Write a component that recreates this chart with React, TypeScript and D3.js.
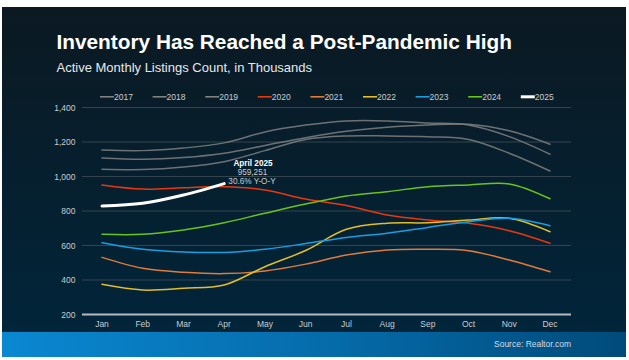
import React from 'react';
import * as d3 from 'd3';

const months = ['Jan', 'Feb', 'Mar', 'Apr', 'May', 'Jun', 'Jul', 'Aug', 'Sep', 'Oct', 'Nov', 'Dec'];
const yTicks = [200, 400, 600, 800, 1000, 1200, 1400];

const years = ['2017', '2018', '2019', '2020', '2021', '2022', '2023', '2024', '2025'];
const colors = ['#808080', '#808080', '#808080', '#e8380d', '#e07b39', '#e3bd2a', '#1a9ee0', '#6cc21c', '#ffffff'];

// values in thousands
const v2017 = [1153, 1150, 1165, 1195, 1258, 1298, 1322, 1322, 1310, 1298, 1231, 1129];
const v2018 = [1107, 1100, 1110, 1135, 1180, 1225, 1262, 1285, 1298, 1303, 1265, 1187];
const v2019 = [1042, 1040, 1055, 1086, 1150, 1215, 1235, 1235, 1230, 1215, 1135, 1032];
const v2020 = [951, 927, 935, 941, 922, 869, 832, 777, 748, 729, 686, 613];
const v2021 = [531, 468, 445, 437, 452, 492, 545, 574, 578, 570, 516, 448];
const v2022 = [375, 342, 352, 371, 477, 571, 694, 729, 732, 748, 758, 680];
const v2023 = [616, 578, 562, 560, 578, 611, 647, 671, 705, 738, 758, 715];
const v2024 = [665, 665, 690, 732, 787, 840, 887, 912, 941, 951, 957, 871];
const v2025 = [829, 845, 893, 959];

const series = [v2017, v2018, v2019, v2020, v2021, v2022, v2023, v2024, v2025];

const W = 629;
const H = 360;
const font = '"Liberation Sans", Arial, sans-serif';

const App: React.FC = () => {
  const x = d3.scalePoint<string>().domain(months).range([102, 550]);
  const y = d3.scaleLinear().domain([200, 1400]).range([314.5, 107.5]);

  const line = d3
    .line<number>()
    .x((_, i) => x(months[i]) as number)
    .y((d) => y(d))
    .curve(d3.curveCatmullRom.alpha(0.5));

  const gridX0 = 82;
  const gridX1 = 571;

  return (
    <div style={{ position: 'absolute', left: 0, top: 0 }}>
      <svg width={W} height={H} style={{ display: 'block' }}>
        <defs>
          <linearGradient id="bg" x1="0" y1="0" x2="0" y2="1">
            <stop offset="0%" stopColor="#0b1922" />
            <stop offset="100%" stopColor="#01253a" />
          </linearGradient>
          <linearGradient id="band" x1="0" y1="0" x2="1" y2="0">
            <stop offset="0%" stopColor="#0a88d2" />
            <stop offset="55%" stopColor="#056aa8" />
            <stop offset="100%" stopColor="#004a7a" />
          </linearGradient>
        </defs>
        <rect width={W} height={H} fill="#ffffff" />
        <rect x={2} y={7} width={624} height={325} fill="url(#bg)" />
        <rect x={2} y={332} width={624} height={25} fill="url(#band)" />

        <text x={56.5} y={48.5} fill="#ffffff" fontFamily={font} fontWeight="bold" fontSize={20.8}>
          Inventory Has Reached a Post-Pandemic High
        </text>
        <text x={56.5} y={71.5} fill="#e6e9ec" fontFamily={font} fontSize={13}>
          Active Monthly Listings Count, in Thousands
        </text>

        {/* legend */}
        <g fontFamily={font} fontSize={8.5} fill="#c8cdd2">
          {years.map((yr, i) => {
            const lx = 100 + i * 52.6;
            return (
              <g key={yr}>
                <line
                  x1={lx}
                  x2={lx + 14}
                  y1={96.8}
                  y2={96.8}
                  stroke={colors[i]}
                  strokeWidth={i === 8 ? 3 : 1.6}
                />
                <text x={lx + 14} y={100}>
                  {yr}
                </text>
              </g>
            );
          })}
        </g>

        {/* grid */}
        {yTicks.map((t) => (
          <g key={t}>
            <line
              x1={gridX0}
              x2={gridX1}
              y1={y(t)}
              y2={y(t)}
              stroke={t === 200 ? '#b4babf' : '#34444f'}
              strokeWidth={t === 200 ? 2 : 1}
            />
            <text
              x={75.5}
              y={y(t) + 3}
              textAnchor="end"
              fontFamily={font}
              fontSize={8.5}
              fill="#c8cdd2"
            >
              {d3.format(',')(t)}
            </text>
          </g>
        ))}

        {months.map((m) => (
          <text
            key={m}
            x={x(m)}
            y={327}
            textAnchor="middle"
            fontFamily={font}
            fontSize={8.5}
            fill="#c8cdd2"
          >
            {m}
          </text>
        ))}

        {/* series */}
        {series.map((s, i) => (
          <path
            key={years[i]}
            d={line(s) || ''}
            fill="none"
            stroke={colors[i]}
            strokeWidth={i === 8 ? 3 : 1.5}
            strokeLinecap="round"
            opacity={i < 3 ? 0.85 : 1}
          />
        ))}

        {/* annotation */}
        <g fontFamily={font} fontSize={8.2} textAnchor="middle">
          <text x={253} y={166} fill="#ffffff" fontWeight="bold">
            April 2025
          </text>
          <text x={252.5} y={175} fill="#c8cdd2">
            959,251
          </text>
          <text x={252} y={183.5} fill="#c8cdd2">
            30.6% Y-O-Y
          </text>
        </g>

        <text x={571} y={347} textAnchor="end" fontFamily={font} fontSize={8.5} fill="#d6dde3">
          Source: Realtor.com
        </text>
      </svg>
    </div>
  );
};

export default App;
